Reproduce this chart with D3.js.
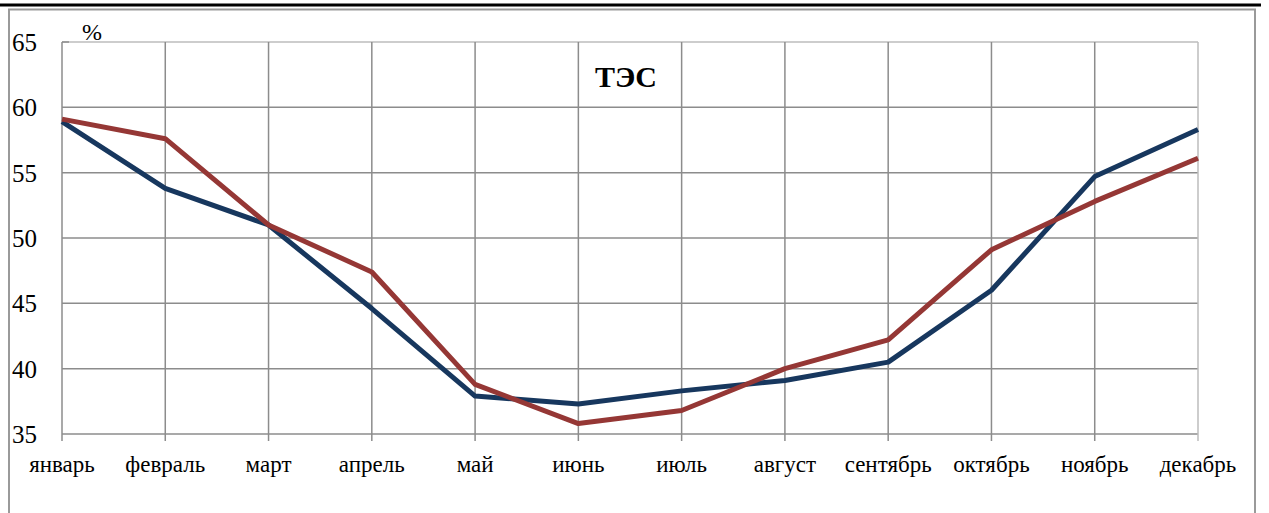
<!DOCTYPE html>
<html>
<head>
<meta charset="utf-8">
<script src="https://cdn.jsdelivr.net/npm/d3@7"></script>
<style>
  html, body { margin: 0; padding: 0; background: #fff; }
  svg { display: block; }
</style>
</head>
<body>
<svg id="chart" width="1269" height="513"></svg>
<script>
// Monthly load factors of thermal power plants, %
const months = ["январь", "февраль", "март", "апрель", "май", "июнь",
                "июль", "август", "сентябрь", "октябрь", "ноябрь", "декабрь"];
const seriesBlue = [58.9, 53.8, 51.0, 44.6, 37.9, 37.3, 38.3, 39.1, 40.5, 46.0, 54.7, 58.3];
const seriesRed  = [59.1, 57.6, 51.0, 47.4, 38.8, 35.8, 36.8, 40.0, 42.2, 49.1, 52.8, 56.1];
const yTicks = [35, 40, 45, 50, 55, 60, 65];
const title = "ТЭС";
const unit = "%";

const svg = d3.select("#chart");
const font = "'Liberation Serif', 'DejaVu Serif', serif";

// outer frame
svg.append("line").attr("x1", 0).attr("x2", 1261).attr("y1", 5).attr("y2", 5)
  .attr("stroke", "#000").attr("stroke-width", 3);
svg.append("path")
  .attr("d", "M9,513 V9.5 H1255 V513")
  .attr("fill", "none").attr("stroke", "#9a9a9a").attr("stroke-width", 2);

const m = { left: 62, right: 1198, top: 42, bottom: 434 };

const x = d3.scalePoint().domain(months).range([m.left, m.right]);
const y = d3.scaleLinear().domain([35, 65]).range([m.bottom, m.top]);

// horizontal grid
svg.append("g").selectAll("line").data(yTicks).join("line")
  .attr("x1", m.left).attr("x2", m.right)
  .attr("y1", d => y(d)).attr("y2", d => y(d))
  .attr("stroke", d => d === 65 ? "#bdbdbd" : "#8c8c8c")
  .attr("stroke-width", 1.5);

// vertical grid + ticks
svg.append("g").selectAll("line").data(months).join("line")
  .attr("x1", d => x(d)).attr("x2", d => x(d))
  .attr("y1", m.top).attr("y2", m.bottom + 7)
  .attr("stroke", (d, i) => i === months.length - 1 ? "#bdbdbd" : "#8c8c8c")
  .attr("stroke-width", 1.5);

// small tick at the top left
svg.append("line").attr("x1", m.left).attr("x2", m.left + 7)
  .attr("y1", m.top).attr("y2", m.top)
  .attr("stroke", "#8c8c8c").attr("stroke-width", 1.5);

// y labels
svg.append("g").selectAll("text").data(yTicks).join("text")
  .attr("x", 12).attr("y", d => y(d) + 9)
  .attr("font-family", font).attr("font-size", 25).attr("fill", "#000")
  .text(d => d);

// x labels
svg.append("g").selectAll("text").data(months).join("text")
  .attr("x", d => x(d)).attr("y", 472)
  .attr("text-anchor", "middle")
  .attr("font-family", font).attr("font-size", 23).attr("fill", "#000")
  .text(d => d);

// unit and title
svg.append("text").attr("x", 82).attr("y", 40)
  .attr("font-family", font).attr("font-size", 24).text(unit);
svg.append("text").attr("x", 626).attr("y", 87)
  .attr("text-anchor", "middle").attr("font-weight", "bold")
  .attr("font-family", font).attr("font-size", 30).text(title);

// series lines
const line = d3.line().x((d, i) => x(months[i])).y(d => y(d));
svg.append("path").datum(seriesBlue).attr("d", line)
  .attr("fill", "none").attr("stroke", "#17375E").attr("stroke-width", 5)
  .attr("stroke-linejoin", "round");
svg.append("path").datum(seriesRed).attr("d", line)
  .attr("fill", "none").attr("stroke", "#953735").attr("stroke-width", 5)
  .attr("stroke-linejoin", "round");
</script>
</body>
</html>
